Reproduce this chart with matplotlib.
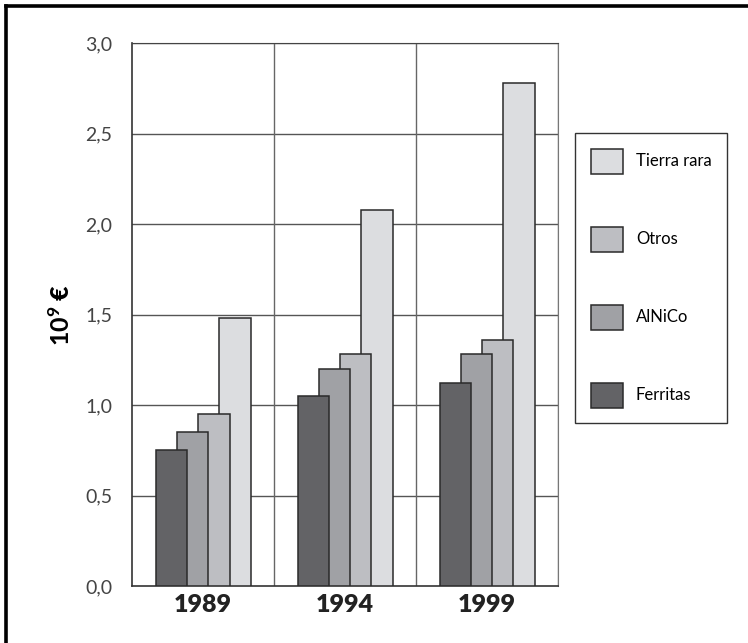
import numpy as np
import matplotlib.pyplot as plt
from matplotlib.lines import Line2D

plt.rcParams["font.family"] = ["Lato", "DejaVu Sans"]
plt.rcParams["mathtext.fontset"] = "custom"
plt.rcParams["mathtext.bf"] = "Lato:bold"
plt.rcParams["mathtext.rm"] = "Lato"

years = ["1989", "1994", "1999"]
series = ["Ferritas", "AlNiCo", "Otros", "Tierra rara"]
ferritas = [0.75, 1.05, 1.12]
alnico = [0.85, 1.20, 1.28]
otros = [0.95, 1.28, 1.36]
tierra_rara = [1.48, 2.08, 2.78]
colors = ["#636366", "#a0a1a5", "#bdbec2", "#dcdde0"]

values = [ferritas, alnico, otros, tierra_rara]

fig = plt.figure(figsize=(7.48, 6.43), dpi=100)
ax = fig.add_axes([0.1765, 0.0886, 0.5695, 0.8445])

centers = np.arange(len(years)) + 0.5
width = 0.225
step = 0.148
start = -(3 * step + width) / 2

# overlapping bars, first series in front
handles = []
for k, (name, vals, col) in enumerate(zip(series, values, colors)):
    b = ax.bar(centers + start + k * step, vals, width=width, align="edge",
               color=col, edgecolor="#2a2a2a", linewidth=1.1,
               zorder=10 - k, label=name)
    handles.append(b)

yticks = np.arange(0, 3.01, 0.5)
ax.set_xlim(0, 3)
ax.set_ylim(0, 3.0)
ax.set_yticks(yticks)
ax.set_yticklabels([f"{v:.1f}".replace(".", ",") for v in yticks])
ax.set_xticks(centers)
ax.set_xticklabels(years, fontsize=18, fontweight="heavy", color="#222222")
ax.tick_params(axis="y", length=0, pad=14, labelsize=14, labelcolor="#444444")
ax.tick_params(axis="x", length=0, pad=6)

for y in yticks[1:]:
    ax.axhline(y, color="#555555", linewidth=1.0, zorder=1)
for x in [1, 2, 3]:
    ax.axvline(x, color="#666666", linewidth=1.0, zorder=1)
for side in ["left", "bottom"]:
    ax.spines[side].set_color("#333333")
    ax.spines[side].set_linewidth(1.2)
ax.spines["top"].set_color("#444444")
ax.spines["right"].set_color("#777777")

ax.set_ylabel(r"$\mathbf{10^{9}}$ €", fontsize=18, fontweight="heavy",
              labelpad=8)

leg = fig.legend(handles[::-1], series[::-1], loc="upper left",
                 bbox_to_anchor=(575 / 748, 1 - 133 / 643),
                 fontsize=12, frameon=True, fancybox=False,
                 edgecolor="#333333", framealpha=1,
                 handlelength=1.9, handleheight=1.9,
                 labelspacing=3.2, borderpad=0.95, handletextpad=0.8,
                 borderaxespad=0)
leg.get_frame().set_linewidth(1.0)

# page frame along top and left edges
fig.add_artist(Line2D([6 / 748, 1], [1 - 6 / 643] * 2, color="black", lw=2.6))
fig.add_artist(Line2D([6 / 748] * 2, [0, 1 - 6 / 643], color="black", lw=2.6))

fig.savefig("out.png", dpi=100)
